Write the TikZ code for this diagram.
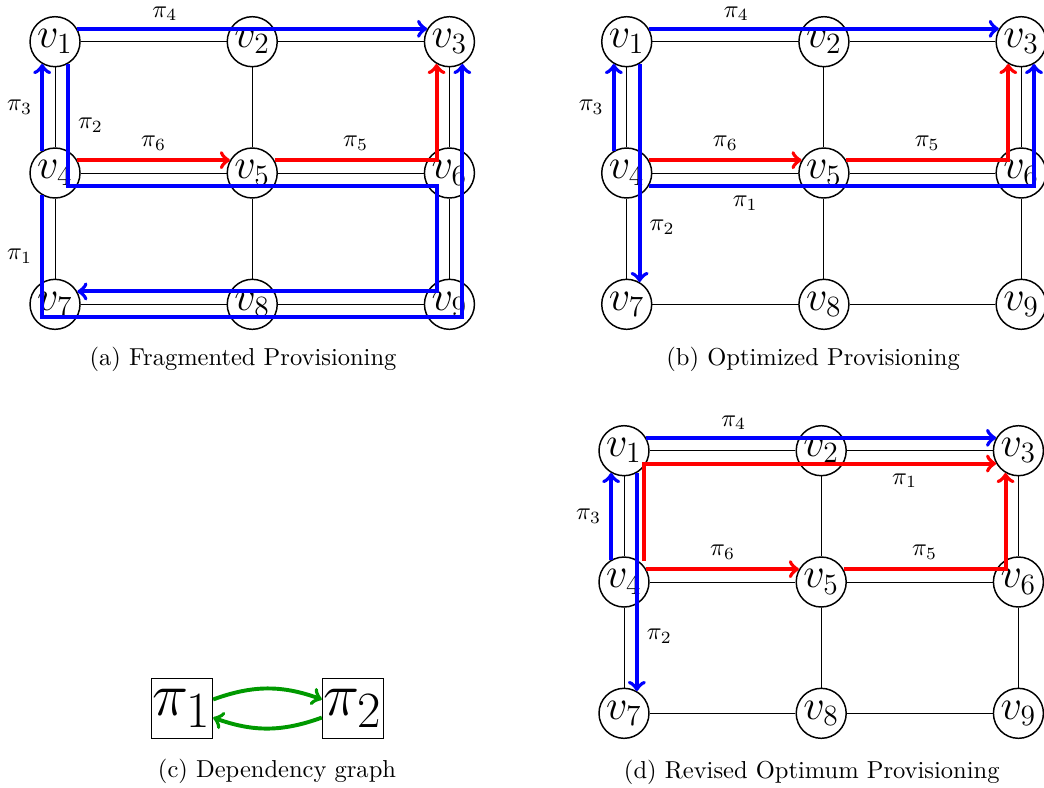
\documentclass[tikz,border=0pt]{standalone}
\tikzset{
  vtx/.style={circle, draw, semithick, fill=white, minimum size=0.717cm, inner sep=0pt, font=\LARGE},
  lnk/.style={thin},
  bpath/.style={->, ultra thick, blue, text=black},
  rpath/.style={->, ultra thick, red, text=black},
  toplab/.style={above, inner sep=1pt, yshift=1.5pt},
  dep/.style={->, ultra thick, green!60!black},
  pbox/.style={draw, semithick, minimum width=0.87cm, minimum height=0.86cm, inner sep=0.5pt, font=\Huge},
}
\begin{document}
\begin{tikzpicture}
    \def\dx{2.828}
    \def\dy{1.883}
    \useasboundingbox (0,0) rectangle (14.971,11.286);
    % the three 3x3 grids of panels (a), (b) and (d)
    \foreach \pn/\ox/\oy in {a/0.789/10.688, b/8.987/10.688, d/8.948/4.823}{%
        \foreach \row in {0,1,2}{
            \foreach \col in {0,1,2}{
                \pgfmathtruncatemacro\n{3*\row+\col+1}
                \node[vtx] (\pn\n) at ({\ox+\col*\dx},{\oy-\row*\dy}) {$v_{\n}$};
            }
        }
        \foreach \ea/\eb in {1/2,2/3,4/5,5/6,7/8,8/9,1/4,4/7,2/5,5/8,3/6,6/9}
            \draw[lnk] (\pn\ea) -- (\pn\eb);
    }
    % (a) fragmented provisioning
    \draw[bpath] (a1.30) -- node[pos=.25, toplab] {$\pi_4$} (a3.150);
    \draw[bpath] (a4.120) -- node[midway, left] {$\pi_3$} (a1.240);
    \draw[bpath] (a4.240) -- node[midway, left] {$\pi_1$} (a4.240 |- a7.330)
        -- (a3.300 |- a7.330) -- (a3.300);
    \draw[bpath] (a1.300) -- node[midway, right] {$\pi_2$} (a1.300 |- a4.330)
        -- (a6.240 |- a4.330) -- (a6.240 |- a7.30) -- (a7.30);
    \draw[rpath] (a4.30) -- node[midway, above] {$\pi_6$} (a5.150);
    \draw[rpath] (a5.30) -- node[midway, above] {$\pi_5$} (a3.240 |- a5.30) -- (a3.240);
    % (b) optimized provisioning
    \draw[bpath] (b1.30) -- node[pos=.25, toplab] {$\pi_4$} (b3.150);
    \draw[bpath] (b4.120) -- node[midway, left] {$\pi_3$} (b1.240);
    \draw[bpath] (b1.300) -- node[pos=.75, right] {$\pi_2$} (b7.60);
    \draw[bpath] (b4.330) -- node[pos=.25, below] {$\pi_1$} (b3.300 |- b4.330) -- (b3.300);
    \draw[rpath] (b4.30) -- node[midway, above] {$\pi_6$} (b5.150);
    \draw[rpath] (b5.30) -- node[midway, above] {$\pi_5$} (b3.240 |- b5.30) -- (b3.240);
    % (d) revised optimum provisioning
    \draw[bpath] (d1.30) -- node[pos=.25, toplab] {$\pi_4$} (d3.150);
    \draw[bpath] (d4.120) -- node[midway, left] {$\pi_3$} (d1.240);
    \draw[bpath] (d1.300) -- node[pos=.75, right] {$\pi_2$} (d7.60);
    \draw[rpath] ([shift={(0.29,0.3)}]d4.center) |- node[pos=.87, below] {$\pi_1$} (d3.210);
    \draw[rpath] (d4.30) -- node[midway, above] {$\pi_6$} (d5.150);
    \draw[rpath] (d5.30) -- node[midway, above] {$\pi_5$} (d3.240 |- d5.30) -- (d3.240);
    % (c) dependency graph
    \node[pbox] (p1) at (2.610,1.126) {$\pi_1$};
    \node[pbox] (p2) at (5.062,1.126) {$\pi_2$};
    \draw[dep] ([yshift=0.13cm]p1.east) to[bend left=20] ([yshift=0.13cm]p2.west);
    \draw[dep] ([yshift=-0.13cm]p2.west) to[bend left=20] ([yshift=-0.13cm]p1.east);
    % captions
    \node (capa) at (3.485,6.130) {(a) Fragmented Provisioning};
    \node (capb) at (11.66,6.130) {(b) Optimized Provisioning};
    \node (capc) at (3.972,0.229) {(c) Dependency graph};
    \node (capd) at (11.64,0.215) {(d) Revised Optimum Provisioning};
\end{tikzpicture}
\end{document}
